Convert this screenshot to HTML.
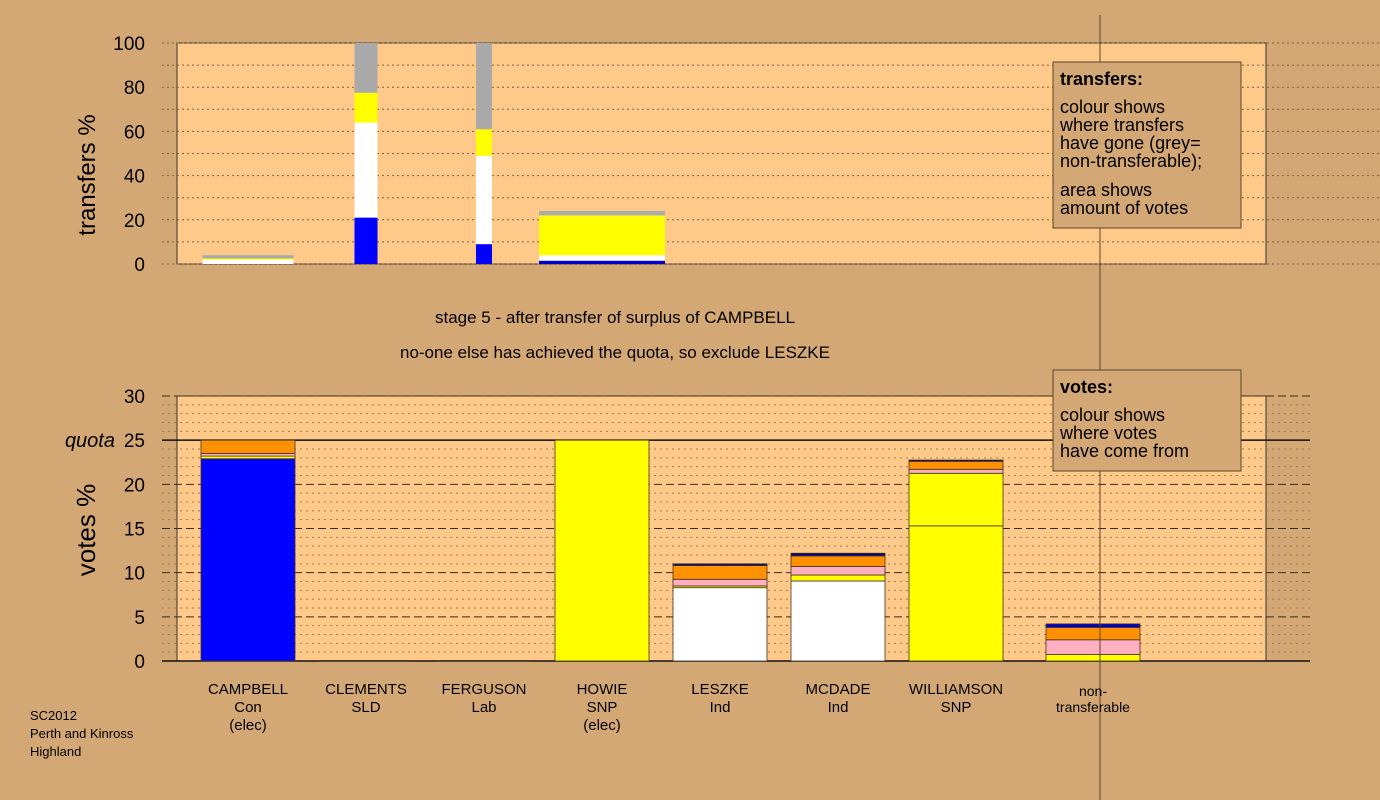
<!DOCTYPE html>
<html><head><meta charset="utf-8"><style>
html,body{margin:0;padding:0;background:#D4A874;}
svg{display:block;font-family:"Liberation Sans",Arial,sans-serif;}
</style></head><body>
<svg id="c" width="1380" height="800" viewBox="0 0 1380 800" xmlns="http://www.w3.org/2000/svg">
<rect x="0" y="0" width="1380" height="800" fill="#D4A874"/>
<rect x="177" y="43" width="1089" height="221" fill="#FFC98A" stroke="#333" stroke-width="1"/>
<rect x="177" y="396" width="1089" height="265" fill="#FFC98A" stroke="#333" stroke-width="1"/>
<g id="topGrid"></g><g id="botGrid"></g>
<g id="topBars"></g><g id="botBars"></g>
<line x1="1100" y1="15" x2="1100" y2="800" stroke="#5a4630" stroke-width="1"/>
<text x="70" y="150" transform="rotate(-90 95 150)" font-size="24" text-anchor="middle" fill="#000">transfers %</text>
<text x="95" y="530" transform="rotate(-90 95 530)" font-size="26" text-anchor="middle" fill="#000">votes %</text>
<text x="115" y="447" font-size="20" font-style="italic" text-anchor="end">quota</text>
<text x="615" y="323" font-size="17" text-anchor="middle">stage 5 - after transfer of surplus of CAMPBELL</text>
<text x="615" y="358" font-size="17" text-anchor="middle">no-one else has achieved the quota, so exclude LESZKE</text>
<g>
<rect x="1053" y="62" width="188" height="166" fill="#D4A874" stroke="#5a4630"/>
<text x="1060" y="85" font-size="18" font-weight="bold">transfers:</text>
<text x="1060" y="113" font-size="18">colour shows</text>
<text x="1060" y="131" font-size="18">where transfers</text>
<text x="1060" y="149" font-size="18">have gone (grey=</text>
<text x="1060" y="167" font-size="18">non-transferable);</text>
<text x="1060" y="196" font-size="18">area shows</text>
<text x="1060" y="214" font-size="18">amount of votes</text>
</g>
<g>
<rect x="1053" y="370" width="188" height="101" fill="#D4A874" stroke="#5a4630"/>
<text x="1060" y="393" font-size="18" font-weight="bold">votes:</text>
<text x="1060" y="421" font-size="18">colour shows</text>
<text x="1060" y="439" font-size="18">where votes</text>
<text x="1060" y="457" font-size="18">have come from</text>
</g>
<g font-size="13">
<text x="30" y="720">SC2012</text><text x="30" y="738">Perth and Kinross</text><text x="30" y="756">Highland</text>
</g>
<g id="labels" font-size="15" text-anchor="middle"></g>
</svg>
<script>
const candidates=["CAMPBELL","CLEMENTS","FERGUSON","HOWIE","LESZKE","MCDADE","WILLIAMSON","","non-transferable"];
const subLabels=[["Con","(elec)"],["SLD"],["Lab"],["SNP","(elec)"],["Ind"],["Ind"],["SNP"],[],[]];
const topTicks=[0,20,40,60,80,100];
const botTicks=[0,5,10,15,20,25,30];
const quota=25;
// transfers: [centerIndex, widthPx-ish share, segments [colour,value%]]
const transferWidths=[91,23,16,126];
const transferIdx=[0,1,2,3];
const transferSegs=[
 [["#fff",2],["#FFFF00",0.5],["#aaa",1.5]],
 [["#0000FF",21],["#fff",43],["#FFFF00",13.5],["#aaa",22.5]],
 [["#0000FF",9],["#fff",40],["#FFFF00",12],["#aaa",39]],
 [["#0000CC",1.5],["#fff",2.5],["#FFFF00",18],["#aaa",2]]
];
const voteSegs=[
 [["#0000FF",22.9],["#FFFF00",0.3],["#FFB0C0",0.3],["#FF9000",1.5]],
 [["#0000FF",0.05]],
 [["#0000FF",0.05]],
 [["#FFFF00",25]],
 [["#fff",8.3],["#FFFF00",0.2],["#FFB0C0",0.75],["#FF9000",1.55],["#000080",0.2]],
 [["#fff",9.06],["#FFFF00",0.68],["#FFB0C0",0.96],["#FF9000",1.2],["#000080",0.3]],
 [["#FFFF00",15.3],["#FFFF00",5.95],["#FFB0C0",0.45],["#FF9000",0.9],["#000080",0.15]],
 [],
 [["#FFFF00",0.75],["#FFB0C0",1.65],["#FF9000",1.4],["#0000CC",0.4]]
];
const NS="http://www.w3.org/2000/svg";
function mk(p,t,a){const e=document.createElementNS(NS,t);for(const k in a)e.setAttribute(k,a[k]);p.appendChild(e);return e;}
const yT=v=>264-v*2.21, yB=v=>661-v*(265/30), xC=i=>248+i*118+(i>=8?-0:0);
const xCenter=i=>i===8?1093:248+i*118;
const tg=document.getElementById('topGrid'),bg=document.getElementById('botGrid');
for(let v=0;v<=100;v+=10){const l=mk(tg,'line',{x1:162,x2:1380,y1:yT(v),y2:yT(v),stroke:'#7a6040','stroke-width':1,'stroke-dasharray':'2,3'});

}
topTicks.forEach(v=>{const t=mk(tg,'text',{x:145,y:yT(v)+7,'font-size':19,'text-anchor':'end'});t.textContent=v;

});
for(let v=0;v<=30;v++){if(v%5===0&&v!==0&&v!==25&&v!==30){}
const dash=v%5===0;const l=mk(bg,'line',{x1:162,x2:1310,y1:yB(v),y2:yB(v),stroke:dash?'#3a2a18':'#9a7a50','stroke-width':1,'stroke-dasharray':dash?'8,4':'2,4'});

}
const ql=mk(bg,'line',{x1:162,x2:1310,y1:yB(quota),y2:yB(quota),stroke:'#111','stroke-width':1.5});


const bl=mk(bg,'line',{x1:162,x2:1310,y1:yB(0),y2:yB(0),stroke:'#111','stroke-width':1.5});


botTicks.forEach(v=>{const t=mk(bg,'text',{x:145,y:yB(v)+7,'font-size':19,'text-anchor':'end'});t.textContent=v;

});
const tb=document.getElementById('topBars');
transferSegs.forEach((segs,k)=>{let c=0;const w=transferWidths[k],cx=xCenter(transferIdx[k]);
segs.forEach(([col,v])=>{const r=mk(tb,'rect',{x:cx-w/2,y:yT(c+v),width:w,height:v*2.21,fill:col});

c+=v;});});
const bb=document.getElementById('botBars');
voteSegs.forEach((segs,i)=>{let c=0;const cx=xCenter(i);
segs.forEach(([col,v])=>{const r=mk(bb,'rect',{x:cx-47,y:yB(c+v),width:94,height:Math.max(v*265/30,0.5),fill:col,stroke:'#443322','stroke-width':0.8});

c+=v;});});
const lg=document.getElementById('labels');
candidates.forEach((n,i)=>{if(!n)return;
if(i===8){[["non-",696],["transferable",712]].forEach(([s,y])=>{const t=mk(lg,'text',{x:xCenter(i),y:y,'font-size':14});t.textContent=s;

});return;}
const t=mk(lg,'text',{x:xCenter(i),y:694});t.textContent=n;


subLabels[i].forEach((s,j)=>{const u=mk(lg,'text',{x:xCenter(i),y:712+j*18});u.textContent=s;

});});
</script>
</body></html>
